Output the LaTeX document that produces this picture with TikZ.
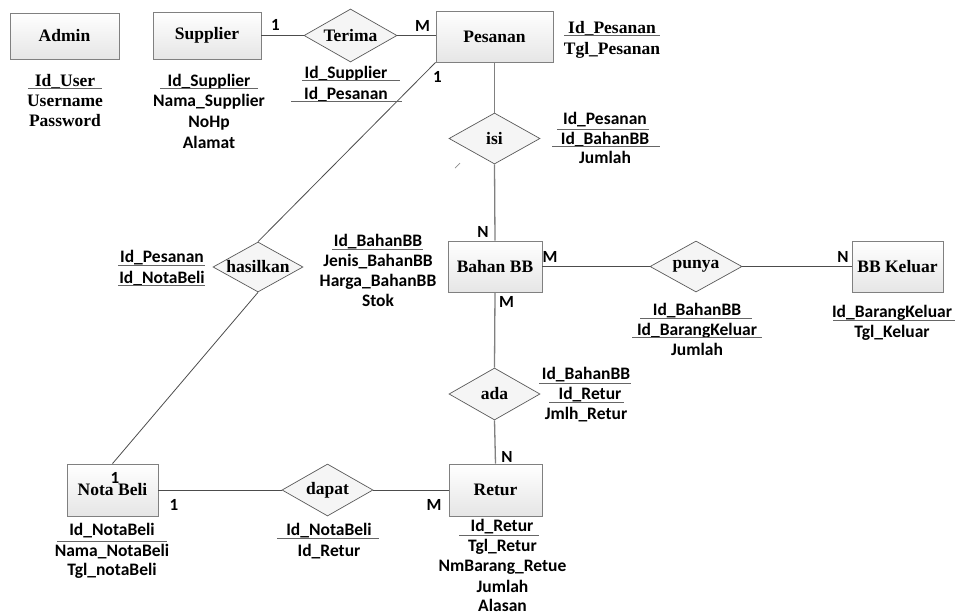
\documentclass[tikz,border=0pt]{standalone}
\usepackage{fontspec}
\setmainfont{Liberation Serif}
\newfontfamily\calfont{Carlito}
\usetikzlibrary{shapes.geometric,shadows}

\begin{document}
\begin{tikzpicture}[x=1pt,y=-1pt,
  entity/.style={rectangle, draw=black!50, line width=0.8pt,
    top color=white, bottom color=black!10, inner sep=0pt,
    font=\bfseries\fontsize{17.5}{20}\selectfont,
    drop shadow={shadow xshift=1.2pt, shadow yshift=-1.2pt, opacity=0.25, fill=black}},
  rel/.style={diamond, draw=black!65, line width=0.7pt, fill=black!4, inner sep=0pt,
    label={[font=\bfseries\fontsize{17.5}{20}\selectfont, inner sep=0pt]center:#1}},
  attr/.style={font=\calfont\bfseries\fontsize{17.5}{20}\selectfont, anchor=base, inner sep=0pt},
  tattr/.style={font=\bfseries\fontsize{17.5}{20}\selectfont, anchor=base, inner sep=0pt},
  card/.style={font=\calfont\bfseries\fontsize{17}{20}\selectfont, anchor=center, inner sep=0pt},
  link/.style={draw=black!70, line width=0.8pt},
  vlink/.style={draw=black!50, line width=1.3pt},
  uline/.style={draw=black!60, line width=0.7pt}
]
\useasboundingbox (0,0) rectangle (956,614);

% entities
\node[entity, minimum width=109pt, minimum height=46pt] (admin)    at (64.5,36)   {Admin};
\node[entity, minimum width=108pt, minimum height=47pt] (supplier) at (207,35.5)  {Supplier};
\node[entity, minimum width=117pt, minimum height=51pt] (pesanan)  at (494.5,36.5){Pesanan};
\node[entity, minimum width=94pt,  minimum height=51pt] (bahanbb)  at (495,266.5) {Bahan BB};
\node[entity, minimum width=91pt,  minimum height=51pt] (bbkeluar) at (897.5,266.5){BB Keluar};
\node[entity, minimum width=91pt,  minimum height=52pt] (notabeli) at (112.5,490) {Nota Beli};
\node[entity, minimum width=93pt,  minimum height=52pt] (retur)    at (495.5,490) {Retur};

% relationships
\node[rel=Terima,   minimum width=93pt, minimum height=53pt] (terima)   at (350.5,35.5) {};
\node[rel=isi,      minimum width=91pt, minimum height=51pt] (isi)      at (494.5,138.5) {};
\node[rel=hasilkan, minimum width=90pt, minimum height=50pt] (hasilkan) at (258,267) {};
\node[rel=punya,    minimum width=92pt, minimum height=51pt] (punya)    at (696,266.5) {};
\node[rel=ada,      minimum width=91pt, minimum height=52pt] (ada)      at (494.5,394) {};
\node[rel=dapat,    minimum width=91pt, minimum height=52pt] (dapat)    at (327.5,490) {};

% connectors
\draw[link] (supplier.east) -- (terima.west);
\draw[link] (terima.east) -- (pesanan.west |- terima.east);
\draw[link] (pesanan.south west) -- (hasilkan.north);
\draw[link] (hasilkan.south) -- (notabeli.north);
\draw[vlink] (pesanan.south) -- (isi.north);
\draw[vlink] (isi.south) -- (bahanbb.north);
\draw[link] (bahanbb.east) -- (punya.west);
\draw[link] (punya.east) -- (bbkeluar.west);
\draw[vlink] (bahanbb.south) -- (ada.north);
\draw[vlink] (ada.south) -- (retur.north);
\draw[link] (notabeli.east) -- (dapat.west);
\draw[link] (dapat.east) -- (retur.west);
\draw[draw=black!45, line width=0.7pt] (455,168) -- (460,163);

% cardinalities
\node[card] (c1) at (275.5,25) {1};
\node[card] (c2) at (422.5,26) {M};
\node[card] (c3) at (437.5,76.5) {1};
\node[card] (c4) at (483,231.5) {N};
\node[card] (c5) at (506.5,302) {M};
\node[card] (c6) at (550,256.5) {M};
\node[card] (c7) at (843,256.5) {N};
\node[card] (c8) at (507,457) {N};
\node[card] (c9) at (434,505) {M};
\node[card] (c10) at (115,478) {1};
\node[card] (c11) at (174,505) {1};

% Admin attributes
\node[tattr] (a1) at (65,86) {Id\_User};
\draw[uline] (28,88) -- (102,88);
\node[tattr] (a2) at (65,106) {Username};
\node[tattr] (a3) at (65,126) {Password};

% Supplier attributes
\node[attr] (s1) at (209,86) {Id\_Supplier};
\draw[uline] (160,88) -- (258,88);
\node[attr] (s2) at (209,106) {Nama\_Supplier};
\node[attr] (s3) at (209,127) {NoHp};
\node[attr] (s4) at (209,148) {Alamat};

% Terima attributes
\node[attr] (t1) at (346,78) {Id\_Supplier};
\draw[uline] (302,80) -- (400,80);
\node[attr] (t2) at (346,99) {Id\_Pesanan};
\draw[uline] (291,101) -- (402,101);

% Pesanan attributes
\node[tattr] (p1) at (612,33) {Id\_Pesanan};
\draw[uline] (564,35) -- (660,35);
\node[tattr] (p2) at (612,54) {Tgl\_Pesanan};

% isi attributes
\node[attr] (i1) at (605,124) {Id\_Pesanan};
\draw[uline] (557,129) -- (649,129);
\node[attr] (i2) at (605,144) {Id\_BahanBB};
\draw[uline] (552,146) -- (660,146);
\node[attr] (i3) at (605,163) {Jumlah};

% Bahan BB attributes
\node[attr] (b1) at (378,246) {Id\_BahanBB};
\draw[uline] (332,249) -- (423,249);
\node[attr] (b2) at (378,266) {Jenis\_BahanBB};
\node[attr] (b3) at (378,286) {Harga\_BahanBB};
\node[attr] (b4) at (378,306) {Stok};

% hasilkan attributes
\node[attr] (h1) at (162,262) {Id\_Pesanan};
\draw[uline] (118,265) -- (205,265);
\node[attr] (h2) at (162,283) {Id\_NotaBeli};
\draw[uline] (118,285) -- (205,285);

% punya attributes
\node[attr] (u1) at (697,315) {Id\_BahanBB};
\draw[uline] (640,318) -- (752,318);
\node[attr] (u2) at (697,335) {Id\_BarangKeluar};
\draw[uline] (632,337) -- (762,337);
\node[attr] (u3) at (697,355) {Jumlah};

% BB Keluar attributes
\node[attr] (k1) at (892,317) {Id\_BarangKeluar};
\draw[uline] (833,320) -- (955,320);
\node[attr] (k2) at (892,337) {Tgl\_Keluar};

% ada attributes
\node[attr] (d1) at (586,379) {Id\_BahanBB};
\draw[uline] (539,383) -- (631,383);
\node[attr] (d2) at (590,399) {Id\_Retur};
\draw[uline] (549,402) -- (624,402);
\node[attr] (d3) at (586,419) {Jmlh\_Retur};

% Nota Beli attributes
\node[attr] (n1) at (112,535) {Id\_NotaBeli};
\draw[uline] (57,541) -- (167,541);
\node[attr] (n2) at (112,556) {Nama\_NotaBeli};
\node[attr] (n3) at (112,575) {Tgl\_notaBeli};

% dapat attributes
\node[attr] (e1) at (329,535) {Id\_NotaBeli};
\draw[uline] (277,538) -- (379,538);
\node[attr] (e2) at (329,556) {Id\_Retur};

% Retur attributes
\node[attr] (r1) at (502,531) {Id\_Retur};
\draw[uline] (459,535) -- (539,535);
\node[attr] (r2) at (502.5,551) {Tgl\_Retur};
\node[attr] (r3) at (502.5,571) {NmBarang\_Retue};
\node[attr] (r4) at (502.5,592) {Jumlah};
\node[attr] (r5) at (502.5,611) {Alasan};
\end{tikzpicture}
\end{document}
